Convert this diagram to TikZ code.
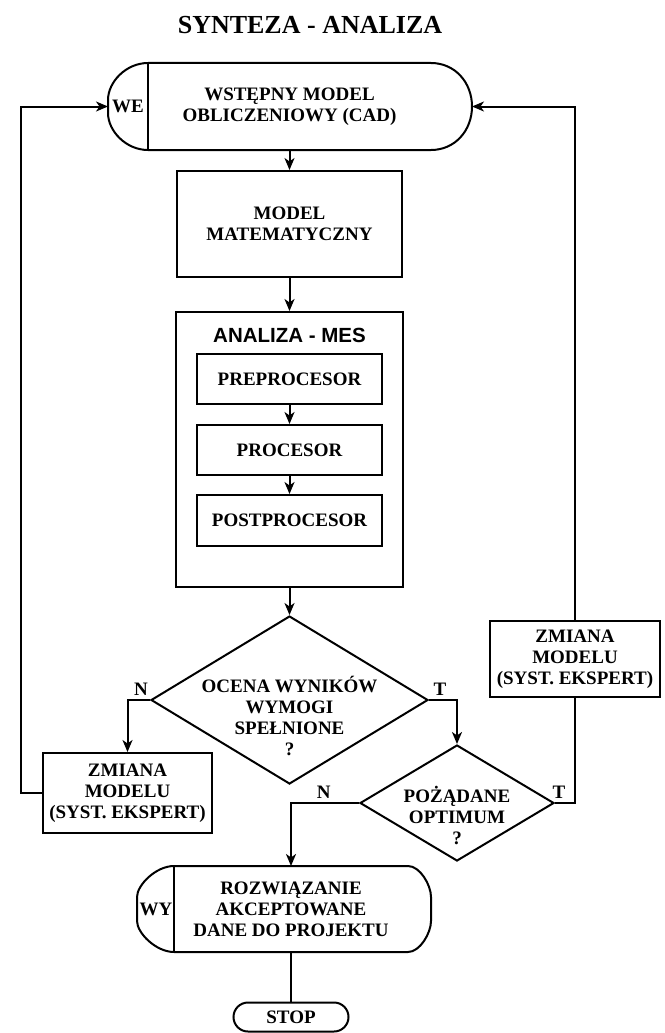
\documentclass[tikz,border=0pt]{standalone}
\usepackage{fontspec}
\setmainfont{Liberation Serif}
\newfontfamily\arialfont{Liberation Sans}
\usetikzlibrary{arrows.meta,shapes.geometric,shapes.misc}

\newcommand{\txt}{\fontsize{19}{21}\selectfont\bfseries}
\newcommand{\ttl}{\fontsize{26}{30}\selectfont\bfseries}

\begin{document}
\begin{tikzpicture}[x=1pt,y=-1pt,line width=2pt,
    box/.style={draw,inner sep=0pt,align=center,font=\txt},
    body/.style={inner sep=0pt,align=center,font=\txt},
    dec/.style={draw,diamond,inner sep=0pt},
    tf/.style={font=\txt,inner sep=4pt},
    arr/.style={-{Stealth[length=12pt,width=10pt,inset=3.5pt]}}]
  \useasboundingbox (0,0) rectangle (664,1033);

  \node[font=\ttl] (title) at (310,25) {SYNTEZA - ANALIZA};

  % wejscie
  \node[body,minimum width=281pt,minimum height=85pt] (we) at (289.5,106.5) {WSTĘPNY MODEL\\OBLICZENIOWY (CAD)};
  \coordinate (wein) at ([xshift=-40pt]we.west);
  \coordinate (weout) at ([xshift=41pt]we.east);
  \draw (we.north west) -- (we.north east)
        .. controls +(24,0) and +(0,-24) .. (weout)
        .. controls +(0,24) and +(24,0) .. (we.south east)
        -- (we.south west)
        .. controls +(-22,0) and +(0,18) .. ([yshift=-6.5pt]wein)
        -- ([yshift=6.5pt]wein)
        .. controls +(0,-18) and +(-22,0) .. (we.north west);
  \draw (we.north west) -- (we.south west);
  \node[font=\txt,inner sep=0pt] (welbl) at ([xshift=-20pt]we.west) {WE};

  \node[box,minimum width=225pt,minimum height=106pt] (mm) at (289.5,224) {MODEL\\MATEMATYCZNY};

  % MES
  \node[box,minimum width=227pt,minimum height=275pt] (mes) at (289.5,449.5) {};
  \node[font=\fontsize{20.5}{24}\selectfont\arialfont\bfseries] (mestit) at (289.5,335) {ANALIZA - MES};
  \node[box,minimum width=185pt,minimum height=50pt] (pre) at (289.5,379) {PREPROCESOR};
  \node[box,minimum width=185pt,minimum height=50pt] (pro) at (289.5,450) {PROCESOR};
  \node[box,minimum width=185pt,minimum height=51pt] (post) at (289.5,520.5) {POSTPROCESOR};

  % decyzje
  \node[dec,minimum width=277pt,minimum height=168pt,
        label={[font=\txt,align=center,yshift=-16pt]center:{OCENA WYNIKÓW\\WYMOGI\\SPEŁNIONE\\?}}] (ocena) at (289.5,700) {};
  \node[dec,minimum width=194pt,minimum height=116pt,
        label={[font=\txt,align=center,yshift=-12pt]center:{POŻĄDANE\\OPTIMUM\\?}}] (opt) at (457,803) {};

  \node[box,minimum width=169pt,minimum height=80pt] (zl) at (127.5,793) {ZMIANA\\MODELU\\(SYST. EKSPERT)};
  \node[box,minimum width=170pt,minimum height=76pt] (zr) at (575,659) {ZMIANA\\MODELU\\(SYST. EKSPERT)};

  % wyjscie
  \node[body,minimum width=232pt,minimum height=84pt] (wy) at (291,909) {ROZWIĄZANIE\\AKCEPTOWANE\\DANE DO PROJEKTU};
  \coordinate (wyin) at ([xshift=-37pt]wy.west);
  \coordinate (wyout) at ([xshift=23pt]wy.east);
  \draw (wy.north west) -- (wy.north east)
        .. controls +(12,0) and +(0,-12) .. ([yshift=12pt]wyout)
        -- ([yshift=-12pt]wyout)
        .. controls +(0,12) and +(12,0) .. (wy.south east)
        -- (wy.south west)
        .. controls +(-18,0) and +(0,12) .. ([yshift=-12pt]wyin)
        -- ([yshift=12pt]wyin)
        .. controls +(0,-12) and +(-18,0) .. (wy.north west);
  \draw (wy.north west) -- (wy.south west);
  \node[font=\txt,inner sep=0pt] (wylbl) at ([xshift=-18pt]wy.west) {WY};

  \node[draw,rounded rectangle,inner sep=0pt,minimum width=115pt,minimum height=29pt,font=\txt] (stop) at (291,1017) {STOP};

  % polaczenia
  \draw[arr] (we.south) -- (mm.north);
  \draw[arr] (mm.south) -- (mes.north);
  \draw[arr] (pre) -- (pro);
  \draw[arr] (pro) -- (post);
  \draw[arr] (mes.south) -- (ocena.north);
  \draw[arr] (ocena.west) node[tf,anchor=south,xshift=-9pt] {N} -| (zl.north);
  \draw[arr] (ocena.east) node[tf,anchor=south,xshift=11pt] {T} -| (opt.north);
  \draw (opt.east) node[tf,anchor=south,xshift=4pt] {T} -| (zr.south);
  \draw[arr] (opt.west) -| node[tf,pos=.26,anchor=south] {N} (wy.north);
  \draw (wy.south) -- (stop.north);
  \draw[arr] (zl.west) -- ++(-21,0) |- (wein);
  \draw[arr] (zr.north) |- (weout);
\end{tikzpicture}
\end{document}
